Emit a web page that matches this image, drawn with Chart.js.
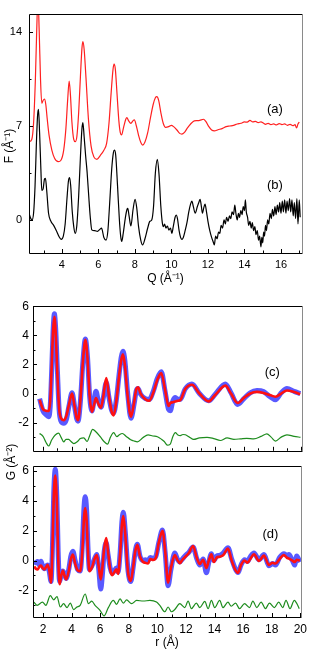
<!DOCTYPE html>
<html>
<head>
<meta charset="utf-8">
<script src="https://cdn.jsdelivr.net/npm/chart.js@4.4.0/dist/chart.umd.min.js"></script>
<style>
body { margin: 0; background: #fff; width: 312px; height: 656px; position: relative; overflow: hidden; font-family: "Liberation Sans", Arial, sans-serif; }
canvas { position: absolute; left: 0; }
.ylab { position: absolute; transform: translate(-50%, -50%) rotate(-90deg); white-space: nowrap; font-size: 12px; color: #000; }
</style>
</head>
<body>
<canvas id="top" width="312" height="290" style="top:0"></canvas>
<canvas id="pc" width="312" height="172" style="top:290px"></canvas>
<canvas id="pd" width="312" height="201" style="top:455px"></canvas>
<div class="ylab" style="left:8px; top:146px">F (Å⁻¹)</div>
<div class="ylab" style="left:10px; top:462px">G (Å⁻²)</div>
<script>
// F(Q) curves, panel (a) red and (b) black
const qA = [2.2,2.35,2.45,2.55,2.62,2.69,2.76,2.83,2.9,2.97,3.05,3.12,3.2,3.3,3.45,3.6,3.8,3.95,4.1,4.22,4.32,4.4,4.47,4.55,4.65,4.73,4.82,4.92,5.02,5.1,5.15,5.22,5.32,5.45,5.6,5.75,5.92,6.1,6.3,6.45,6.58,6.7,6.8,6.86,6.93,7.02,7.12,7.2,7.27,7.38,7.5,7.56,7.65,7.78,7.9,7.97,8.08,8.2,8.33,8.43,8.55,8.7,8.85,9.0,9.12,9.2,9.3,9.42,9.55,9.68,9.85,10.0,10.12,10.3,10.45,10.57,10.7,10.85,11.05,11.25,11.4,11.55,11.75,11.9,12.05,12.2,12.35,12.55,12.8,13.0,13.2,13.4,13.6,13.8,14.0,14.15,14.3,14.45,14.6,14.75,14.9,15.05,15.15,15.3,15.45,15.6,15.75,15.9,16.05,16.2,16.35,16.5,16.65,16.77,16.85,16.93,17.0];
const fA = [5.83,6.0,7.2,10.5,14.0,16.6,14.0,10.5,8.7,8.9,9.0,8.6,7.5,6.3,5.2,4.6,4.34,4.45,5.2,6.8,9.0,10.35,9.3,7.3,6.0,5.83,6.2,8.0,10.8,12.8,13.28,12.7,10.6,7.6,5.5,4.7,4.52,4.8,5.2,5.7,7.2,9.5,11.2,11.6,11.2,9.4,7.4,6.5,6.33,6.9,7.5,7.62,7.4,7.2,7.4,7.45,7.0,6.3,5.75,5.58,5.8,6.5,7.6,8.6,9.1,9.18,8.9,8.0,7.2,6.9,6.95,7.05,6.95,6.7,6.45,6.4,6.5,6.8,7.15,7.38,7.4,7.42,7.5,7.3,6.95,6.7,6.63,6.72,6.82,6.95,7.0,7.05,7.15,7.2,7.3,7.28,7.42,7.3,7.35,7.25,7.3,7.2,7.12,7.2,7.1,7.15,7.08,7.18,7.1,7.15,7.05,7.12,7.02,7.1,6.85,7.15,7.3];
const qB = [2.2,2.3,2.36,2.45,2.53,2.6,2.67,2.72,2.78,2.85,2.9,2.97,3.05,3.1,3.17,3.27,3.4,3.55,3.7,3.85,3.96,4.08,4.18,4.28,4.36,4.42,4.48,4.57,4.65,4.73,4.82,4.92,5.02,5.1,5.15,5.22,5.3,5.38,5.47,5.55,5.64,5.8,5.95,6.08,6.17,6.3,6.42,6.52,6.62,6.73,6.82,6.88,6.95,7.05,7.15,7.22,7.28,7.36,7.48,7.57,7.61,7.68,7.78,7.9,8.01,8.1,8.2,8.32,8.42,8.55,8.7,8.82,8.92,9.02,9.12,9.23,9.32,9.42,9.5,9.56,9.62,9.7,9.78,9.86,9.95,10.02,10.1,10.2,10.26,10.33,10.42,10.5,10.57,10.65,10.75,10.85,10.95,11.05,11.12,11.2,11.3,11.42,11.5,11.57,11.64,11.7,11.77,11.84,11.92,12.0,12.1,12.2,12.28,12.35,12.42,12.5,12.58,12.65,12.72,12.8,12.88,12.95,13.02,13.1,13.18,13.25,13.32,13.4,13.47,13.53,13.6,13.67,13.73,13.8,13.87,13.93,14.0,14.05,14.1,14.17,14.23,14.3,14.37,14.43,14.5,14.57,14.63,14.7,14.77,14.83,14.9,14.95,15.0,15.05,15.1,15.15,15.2,15.27,15.33,15.4,15.47,15.53,15.6,15.67,15.73,15.8,15.87,15.93,16.0,16.07,16.13,16.2,16.27,16.33,16.4,16.47,16.53,16.6,16.67,16.73,16.8,16.87,16.93,17.0,17.05];
const fB = [0.5,0.1,0.0,0.5,2.5,5.5,7.8,8.24,6.5,3.8,2.2,2.3,3.05,3.1,2.2,0.5,-0.1,-0.4,-0.8,-1.25,-1.44,-1.2,-0.3,1.6,2.9,3.15,2.6,0.6,-0.5,-1.0,-0.4,1.8,4.8,6.8,7.25,6.2,4.8,3.6,1.8,0.3,-0.74,-0.8,-0.85,-0.7,-0.6,-1.3,-1.5,-0.8,1.3,3.8,5.0,5.2,4.8,2.5,0.0,-1.2,-1.6,-1.0,0.2,0.8,0.87,0.3,-0.45,0.8,1.54,0.9,-0.5,-1.5,-1.86,-1.4,-0.6,-0.1,0.0,1.0,3.5,4.52,3.4,1.0,-0.2,-0.5,-0.3,-0.6,-0.45,-0.75,-0.6,-1.0,-0.5,0.2,0.37,0.1,-0.8,-1.3,-1.44,-1.3,-0.8,-0.2,0.6,1.2,1.41,1.0,0.5,1.0,1.3,1.54,1.0,0.5,0.9,1.19,0.6,-0.1,-0.8,-1.3,-1.6,-1.86,-1.2,-1.4,-0.9,-1.0,-0.4,-0.6,0.0,-0.3,0.2,-0.1,0.3,0.1,0.6,0.4,1.1,0.5,0.0,0.5,0.2,0.7,0.4,1.0,0.7,1.5,0.6,0.2,-0.4,-0.1,-0.6,-0.2,-0.8,-0.5,-1.1,-0.8,-1.5,-1.2,-2.0,-1.3,-1.7,-0.9,-1.2,-0.4,-0.8,0.0,-0.3,0.5,0.1,0.8,0.3,1.0,0.4,1.1,0.6,1.3,0.5,1.4,0.6,1.5,0.5,1.4,0.7,1.6,0.6,1.5,0.3,1.3,0.1,1.6,-0.3,1.5,0.2];

// G(r) panel (c): observed (blue), fit (red), difference (green, offset)
const rC = [1.76,2.0,2.2,2.39,2.5,2.6,2.7,2.79,2.88,3.0,3.12,3.25,3.44,3.62,3.8,4.02,4.2,4.35,4.44,4.6,4.78,4.95,5.1,5.25,5.41,5.55,5.69,5.85,6.04,6.2,6.41,6.6,6.78,6.92,7.1,7.3,7.45,7.57,7.7,7.9,8.13,8.35,8.5,8.62,8.8,9.13,9.4,9.7,9.95,10.24,10.5,10.75,10.87,11.05,11.22,11.4,11.57,11.9,12.38,12.9,13.54,14.0,14.71,15.1,15.56,16.0,16.44,16.91,17.37,17.8,18.2,18.6,19.0,19.5,19.93];
const gCfit = [-0.43,-1.08,-1.18,-1.2,-0.5,1.8,4.3,5.27,4.2,1.3,-1.0,-1.7,-1.83,-1.55,-0.8,0.0,-0.9,-1.7,-1.83,-0.5,2.2,3.7,2.4,-0.2,-1.25,-0.8,-0.32,-0.7,-0.97,-0.2,1.07,-0.2,-1.25,-1.5,-0.6,1.2,2.3,2.69,2.0,-0.2,-1.6,-0.6,0.3,0.43,0.0,-0.39,-0.5,0.1,0.9,1.4,0.3,-0.86,-0.65,-0.6,-0.55,-0.5,-0.45,0.3,0.6,0.0,-0.54,-0.1,0.54,0.0,-0.65,-0.3,0.0,0.11,0.04,-0.1,-0.22,0.0,0.21,0.1,-0.04];
const gCobs = [-0.35,-1.2,-1.45,-1.6,-0.9,1.5,4.3,5.48,4.5,1.6,-1.1,-1.9,-2.05,-1.8,-0.9,0.05,-0.9,-1.75,-1.9,-0.6,2.2,3.75,2.5,-0.2,-1.2,-0.5,0.15,-0.5,-0.95,-0.3,0.75,-0.3,-1.15,-1.35,-0.5,1.3,2.5,2.9,2.3,0.0,-1.7,-0.7,0.2,0.35,-0.05,-0.35,-0.4,0.2,1.0,1.5,0.2,-1.1,-1.18,-0.5,-0.28,-0.4,-0.4,0.3,0.65,0.0,-0.5,-0.05,0.65,0.05,-0.75,-0.35,0.05,0.2,0.13,-0.2,-0.43,0.05,0.35,0.15,0.0];
const rCd = [1.76,2.0,2.2,2.39,2.6,2.85,3.09,3.25,3.44,3.6,3.79,3.95,4.14,4.4,4.6,4.84,5.07,5.25,5.46,5.7,6.0,6.25,6.5,6.7,6.92,7.15,7.3,7.53,7.8,8.11,8.3,8.58,8.95,9.32,9.65,9.97,10.27,10.45,10.66,10.87,11.05,11.22,11.4,11.57,11.75,11.92,12.2,12.5,12.9,13.43,13.9,14.36,14.83,15.3,15.76,16.2,16.69,17.2,17.6,17.9,18.2,18.6,19.0,19.5,19.95];
const gCdiff = [-2.75,-2.95,-3.35,-3.61,-3.2,-2.85,-2.73,-3.0,-3.33,-3.15,-3.16,-3.3,-3.44,-3.3,-3.1,-3.05,-3.3,-2.9,-2.47,-2.65,-2.99,-3.3,-3.48,-3.0,-2.69,-2.97,-2.85,-2.75,-2.95,-3.18,-3.25,-3.33,-3.05,-2.84,-2.92,-2.97,-3.16,-3.3,-3.55,-3.48,-2.95,-2.69,-2.85,-2.9,-2.82,-2.84,-3.0,-3.16,-3.05,-3.01,-3.1,-3.23,-3.05,-3.15,-3.12,-3.08,-3.12,-2.95,-2.77,-3.0,-3.27,-3.0,-2.84,-2.95,-3.01];

// G(r) panel (d)
const rD = [1.39,1.5,1.62,1.75,1.86,1.97,2.09,2.2,2.32,2.45,2.56,2.65,2.75,2.86,2.97,3.06,3.16,3.28,3.39,3.5,3.62,3.8,3.95,4.09,4.25,4.42,4.6,4.75,4.87,4.95,5.05,5.15,5.25,5.45,5.6,5.76,5.9,6.04,6.15,6.28,6.42,6.55,6.7,6.83,6.98,7.13,7.25,7.4,7.52,7.62,7.75,7.95,8.14,8.3,8.45,8.6,8.78,8.98,9.15,9.35,9.5,9.7,9.9,10.1,10.36,10.55,10.75,10.95,11.22,11.4,11.57,11.75,11.92,12.2,12.5,12.75,12.97,13.2,13.43,13.6,13.78,13.95,14.15,14.36,14.6,14.94,15.2,15.45,15.64,15.85,16.1,16.3,16.5,16.76,17.11,17.46,17.81,18.05,18.27,18.55,18.85,19.05,19.2,19.45,19.6,19.75,19.97];
const gDfit = [-0.39,-0.55,-0.6,-0.4,-0.33,-0.5,-0.6,-0.45,-0.28,-0.7,-1.48,0.5,4.2,5.69,3.8,0.3,-1.59,-1.0,-0.67,-1.0,-1.26,-0.7,0.1,0.41,-0.2,-0.65,-0.72,0.6,2.9,3.52,2.7,0.5,-0.72,-0.4,0.1,0.37,-0.4,-1.26,-0.5,0.8,1.5,0.6,-0.6,-0.98,-0.8,-0.59,-0.9,0.5,2.4,2.98,1.8,-0.8,-1.37,-0.5,0.6,1.06,0.3,-0.07,-0.15,-0.2,0.1,0.04,0.2,1.2,2.0,0.6,-1.48,-0.5,0.37,0.05,-0.17,0.05,0.22,0.5,0.98,0.2,-0.23,0.05,-0.5,0.0,0.42,-0.1,0.2,0.26,0.35,0.8,0.0,-0.6,-0.82,-0.3,0.0,-0.15,0.1,0.42,-0.02,0.33,-0.3,-0.15,-0.2,0.1,0.37,0.2,0.13,0.0,-0.1,0.05,0.0];
const gDobs = [0.0,-0.15,-0.07,-0.3,-0.05,-0.35,-0.55,-0.4,-0.3,-0.8,-1.4,0.5,4.5,6.12,4.2,0.6,-1.4,-0.9,-0.7,-0.9,-1.2,-0.6,0.3,0.63,0.0,-0.6,-0.7,1.0,3.6,4.28,3.4,0.8,-0.6,-0.3,0.1,0.4,-0.6,-1.91,-1.0,0.6,1.2,0.4,-0.5,-0.85,-0.7,-0.5,-0.75,0.6,2.6,3.24,2.0,-0.7,-1.4,-0.5,0.6,1.1,0.3,0.0,0.05,0.0,0.2,0.15,0.3,1.2,2.05,0.5,-1.69,-0.6,0.51,0.1,-0.1,0.1,0.3,0.55,0.9,0.15,-0.3,0.1,-0.82,-0.1,0.45,0.0,0.3,0.35,0.5,0.85,0.1,-0.55,-0.8,-0.3,0.05,-0.05,0.25,0.5,0.05,0.4,-0.35,-0.2,-0.3,0.2,0.45,0.35,0.4,0.0,-0.3,0.3,-0.1];
const rDd = [1.36,1.59,1.96,2.2,2.51,2.75,2.98,3.21,3.44,3.68,3.91,4.14,4.37,4.6,4.95,5.18,5.41,5.64,5.99,6.27,6.57,6.92,7.15,7.39,7.62,7.85,8.2,8.55,9.01,9.48,9.94,10.17,10.52,10.75,10.99,11.22,11.57,11.92,12.15,12.38,12.73,12.97,13.32,13.55,13.78,14.01,14.36,14.59,14.94,15.17,15.47,15.75,16.1,16.45,16.68,16.96,17.26,17.56,17.84,18.19,18.49,18.77,19.0,19.28,19.58,19.74,19.93];
const gDdiff = [-2.78,-3.0,-2.78,-3.0,-2.35,-2.63,-2.41,-3.11,-2.89,-3.15,-2.85,-3.28,-3.11,-3.0,-2.24,-2.89,-2.72,-3.0,-3.33,-3.71,-3.15,-2.67,-2.93,-2.56,-2.85,-2.63,-2.89,-2.67,-2.71,-2.67,-2.78,-3.0,-3.43,-3.11,-3.43,-3.28,-2.89,-3.15,-2.72,-3.22,-2.85,-3.15,-2.74,-3.22,-2.67,-3.15,-2.67,-3.15,-2.78,-3.06,-2.85,-3.22,-2.89,-3.15,-2.72,-3.15,-2.78,-3.22,-2.85,-3.15,-2.78,-3.15,-2.67,-3.22,-2.67,-2.85,-3.22];

// tick labels that are printed
const fTickLabels = [0, 7, 14];
const qTickLabels = [4, 6, 8, 10, 12, 14, 16];
const gTickLabels = [-2, 0, 2, 4, 6];
const rTickLabels = [2, 4, 6, 8, 10, 12, 14, 16, 18, 20];

const FONT = '"Liberation Sans", Arial, sans-serif';
Chart.defaults.font.family = FONT;
Chart.defaults.color = '#000';

function pts(xs, ys) {
  return xs.map((x, i) => ({ x: x, y: ys[i] }));
}
function has(list, v) {
  return list.some(l => Math.abs(l - v) < 1e-6);
}

// ticks point inward, frame around the plot, panel tag
const frameTicks = {
  id: 'frameTicks',
  afterDatasetsDraw(chart, args, o) {
    const { ctx, chartArea: a, scales: { x, y } } = chart;
    ctx.save();
    ctx.strokeStyle = '#000';
    ctx.lineWidth = 1;
    ctx.beginPath();
    x.ticks.forEach(t => {
      const px = Math.round(x.getPixelForValue(t.value)) + 0.5;
      const len = has(o.xLab, t.value) ? 4 : 2.5;
      ctx.moveTo(px, a.bottom);
      ctx.lineTo(px, a.bottom - len);
    });
    y.ticks.forEach(t => {
      const py = Math.round(y.getPixelForValue(t.value)) + 0.5;
      const len = has(o.yLab, t.value) ? 4 : 2.5;
      ctx.moveTo(a.left, py);
      ctx.lineTo(a.left + len, py);
    });
    ctx.moveTo(Math.round(a.left) + 0.5, Math.round(a.bottom) + 0.5);
    ctx.lineTo(Math.round(a.left) + 0.5, Math.round(a.top) + 0.5);
    ctx.lineTo(Math.round(a.right) + 0.5, Math.round(a.top) + 0.5);
    ctx.moveTo(Math.round(a.left) + 0.5, Math.round(a.bottom) + 0.5);
    ctx.lineTo(Math.round(a.right) + 0.5, Math.round(a.bottom) + 0.5);
    ctx.stroke();
    ctx.strokeStyle = '#8a8a8a';
    ctx.beginPath();
    ctx.moveTo(Math.round(a.right) + 0.5, Math.round(a.top) + 0.5);
    ctx.lineTo(Math.round(a.right) + 0.5, Math.round(a.bottom) + 0.5);
    ctx.stroke();
    ctx.fillStyle = '#000';
    ctx.font = '13px ' + FONT;
    ctx.textAlign = 'center';
    ctx.textBaseline = 'middle';
    o.tags.forEach(tg => ctx.fillText(tg.text, x.getPixelForValue(tg.x), y.getPixelForValue(tg.y)));
    ctx.restore();
  }
};

function line(data, color, width, order) {
  return {
    data: data, borderColor: color, borderWidth: width, pointRadius: 0,
    cubicInterpolationMode: 'monotone', fill: false, clip: 0, order: order
  };
}

function makePanel(id, o) {
  return new Chart(document.getElementById(id), {
    type: 'line',
    data: { datasets: o.datasets },
    options: {
      responsive: false,
      animation: false,
      events: [],
      layout: { padding: o.pad },
      plugins: {
        legend: { display: false },
        tooltip: { enabled: false },
        frameTicks: { xLab: o.xLab, yLab: o.yLab, tags: o.tags }
      },
      scales: {
        x: {
          type: 'linear', min: o.xMin, max: o.xMax,
          grid: { display: false, drawTicks: false },
          border: { display: false },
          ticks: {
            stepSize: 1, includeBounds: false, autoSkip: false, maxRotation: 0,
            padding: o.xPad, font: { size: o.fs },
            callback: v => (o.showX && has(o.xLab, v)) ? String(v) : ''
          },
          title: o.xTitle ? { display: true, text: o.xTitle, font: { size: 12 }, padding: { top: 0, bottom: o.titlePad } } : { display: false },
          afterFit: s => { s.height = o.xh; }
        },
        y: {
          type: 'linear', min: o.yMin, max: o.yMax,
          grid: { display: false, drawTicks: false },
          border: { display: false },
          ticks: {
            stepSize: o.yStep, includeBounds: false, autoSkip: false,
            padding: o.yPad, font: { size: o.fs },
            callback: v => has(o.yLab, v) ? String(v) : ''
          },
          afterFit: s => { s.width = o.yw; }
        }
      }
    },
    plugins: [frameTicks]
  });
}

makePanel('top', {
  datasets: [
    line(pts(qA, fA), '#ff2020', 1.2, 1),
    line(pts(qB, fB), '#000000', 1.2, 2)
  ],
  pad: { top: 14, right: 10, left: 0, bottom: 0 },
  xMin: 2.2, xMax: 17.15, yMin: -2.46, yMax: 15.34, yStep: 3.5,
  xLab: qTickLabels, yLab: fTickLabels, showX: true,
  xPad: 5, yPad: 7, fs: 11, xh: 37, yw: 29,
  xTitle: 'Q (Å⁻¹)', titlePad: 4,
  tags: [{ text: '(a)', x: 15.67, y: 8.2 }, { text: '(b)', x: 15.67, y: 2.6 }]
});

makePanel('pc', {
  datasets: [
    line(pts(rC, gCfit), '#ff1010', 2.6, 1),
    line(pts(rCd, gCdiff), '#1e8c1e', 1.2, 2),
    line(pts(rC, gCobs), 'rgba(60,60,255,0.85)', 5, 3)
  ],
  pad: { top: 16, right: 10, left: 0, bottom: 1 },
  xMin: 1.3, xMax: 20.05, yMin: -3.94, yMax: 6.02, yStep: 1,
  xLab: rTickLabels, yLab: gTickLabels, showX: false,
  xPad: 5, yPad: 4, fs: 12, xh: 0, yw: 33,
  xTitle: null, titlePad: 0,
  tags: [{ text: '(c)', x: 17.98, y: 1.48 }]
});

makePanel('pd', {
  datasets: [
    line(pts(rD, gDfit), '#ff1010', 2.6, 1),
    line(pts(rDd, gDdiff), '#1e8c1e', 1.2, 2),
    line(pts(rD, gDobs), 'rgba(60,60,255,0.85)', 5, 3)
  ],
  pad: { top: 7, right: 10, left: 0, bottom: 0 },
  xMin: 1.3, xMax: 20.05, yMin: -3.78, yMax: 6.32, yStep: 1,
  xLab: rTickLabels, yLab: gTickLabels, showX: true,
  xPad: 5, yPad: 4, fs: 12, xh: 39, yw: 33,
  xTitle: 'r (Å)', titlePad: 6,
  tags: [{ text: '(d)', x: 17.91, y: 1.76 }]
});
</script>
</body>
</html>
